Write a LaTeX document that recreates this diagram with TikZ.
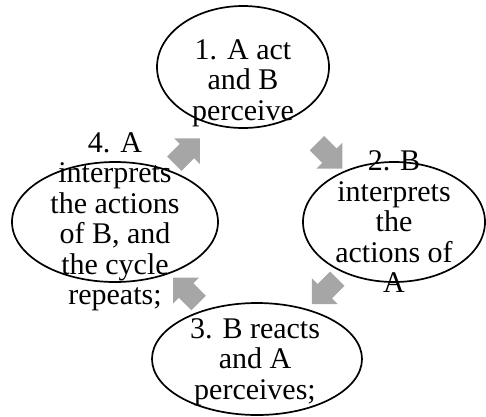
\documentclass[tikz,border=0pt]{standalone}
\usepackage{fontspec}
\setmainfont{Liberation Serif}
\usetikzlibrary{shapes.geometric,shapes.arrows,calc}
\definecolor{arrowgray}{RGB}{166,166,166}
\begin{document}
\begin{tikzpicture}[x=1pt,y=-1pt,
	phase/.style={ellipse,draw,line width=1.7pt,inner sep=0pt},
	phasetext/.style={align=center,inner sep=0pt,font=\fontsize{30}{30.5}\selectfont},
	cyclearrow/.style={single arrow,fill=arrowgray,draw=none,inner sep=10pt,
		single arrow head extend=8pt,minimum height=36pt}]
	\useasboundingbox (0,0) rectangle (486,416);
\node[phase,minimum width=172pt,minimum height=122pt] (e1) at (243,67) {}; % Phase.1
\node[phase,minimum width=182pt,minimum height=120pt] (e2) at (394,222) {}; % Phase.2
\node[phase,minimum width=210pt,minimum height=112pt] (e3) at (257,359) {}; % Phase.3
\node[phase,minimum width=206pt,minimum height=120pt] (e4) at (115,222) {}; % Phase.4
\node[phasetext] (t1) at ([yshift=-16pt]e1.center) {1. A act\\and B\\perceive}; % Phase.1
\node[phasetext] (t2) at (e2.center) {2. B\\interprets\\the\\actions of\\A}; % Phase.2
\node[phasetext] (t3) at ([shift={(-2pt,-3pt)}]e3.center) {3. B reacts\\and A\\perceives;}; % Phase.3
\node[phasetext] (t4) at (e4.center) {4. A\\interprets\\the actions\\of B, and\\the cycle\\repeats;}; % Phase.4
\node[cyclearrow,rotate=-45] (a12) at ($(e1)!0.55!(e2)$) {}; % Arrow.1
\node[cyclearrow,rotate=-135] (a23) at ($(e2)!0.48!(e3)$) {}; % Arrow.2
\node[cyclearrow,rotate=135] (a34) at ($(e3)!0.475!(e4)$) {}; % Arrow.3
\node[cyclearrow,rotate=45] (a41) at ($(e4)!0.48!(e1)+(7,7)$) {}; % Arrow.4

	\end{tikzpicture}
\end{document}
